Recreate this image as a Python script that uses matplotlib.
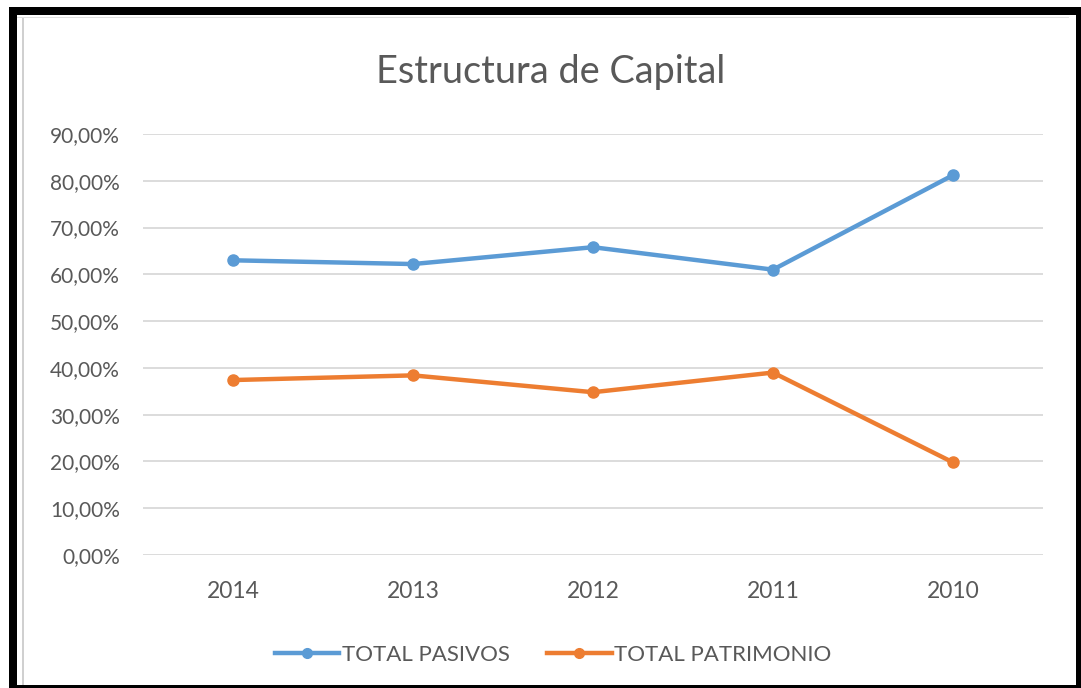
import matplotlib
matplotlib.use("Agg")
import matplotlib.pyplot as plt
from matplotlib.patches import Rectangle
from matplotlib.lines import Line2D
from matplotlib.ticker import FuncFormatter

years = ["2014", "2013", "2012", "2011", "2010"]
total_pasivos = [63.0, 62.2, 65.8, 61.0, 81.2]
total_patrimonio = [37.4, 38.4, 34.8, 39.0, 19.8]
series_names = ["TOTAL PASIVOS", "TOTAL PATRIMONIO"]
title = "Estructura de Capital"

plt.rcParams["font.family"] = ["Lato", "DejaVu Sans"]
TXT = "#595959"

W, H = 1081, 688
fig = plt.figure(figsize=(W / 100, H / 100), dpi=100)
fig.patch.set_facecolor("white")

ax = fig.add_axes([143 / W, 1 - 555 / H, 900 / W, 421 / H])
x = list(range(len(years)))
ax.plot(x, total_pasivos, color="#5B9BD5", lw=3.2, marker="o", ms=8,
        solid_joinstyle="round", label=series_names[0], zorder=3)
ax.plot(x, total_patrimonio, color="#ED7D31", lw=3.2, marker="o", ms=8,
        solid_joinstyle="round", label=series_names[1], zorder=3)

ax.set_xlim(-0.5, len(years) - 0.5)
ax.set_ylim(0, 90)
ax.set_yticks(range(0, 91, 10))
ax.yaxis.set_major_formatter(FuncFormatter(lambda v, p: f"{v:.2f}%".replace(".", ",")))
ax.set_xticks(x)
ax.set_xticklabels(years)
ax.grid(axis="y", color="#d9d9d9", lw=1.3)
ax.set_axisbelow(True)
for s in ax.spines.values():
    s.set_visible(False)
ax.tick_params(axis="both", length=0, colors=TXT)
ax.tick_params(axis="x", labelsize=16.5, pad=19)
ax.tick_params(axis="y", labelsize=15, pad=16.5)

fig.text(551 / W, 1 - 72 / H, title, ha="center", va="center",
         fontsize=27.3, color=TXT)

handles = [Line2D([0], [0], color="#5B9BD5", lw=3.2, marker="o", ms=7),
           Line2D([0], [0], color="#ED7D31", lw=3.2, marker="o", ms=7)]
fig.legend(handles, series_names, loc="center", bbox_to_anchor=(553 / W, 1 - 655 / H),
           ncol=2, frameon=False, fontsize=16, labelcolor=TXT,
           handlelength=2.9, handletextpad=0.1, columnspacing=1.7)

# frame (screenshot border)
def rect(x0, y0, w, h, c):
    fig.add_artist(Rectangle((x0 / W, 1 - (y0 + h) / H), w / W, h / H,
                             transform=fig.transFigure, color=c, lw=0, zorder=10))

rect(22, 17, 1.5, 668, "#d0d0d0")
rect(9, 16.5, 1060, 1, "#e0e0e0")
rect(9, 7, 1072, 8, "black")
rect(9, 7, 8, 681, "black")
rect(1076, 7, 5, 681, "black")
rect(9, 685, 1072, 3, "black")

fig.savefig("out.png", dpi=100, facecolor="white")
